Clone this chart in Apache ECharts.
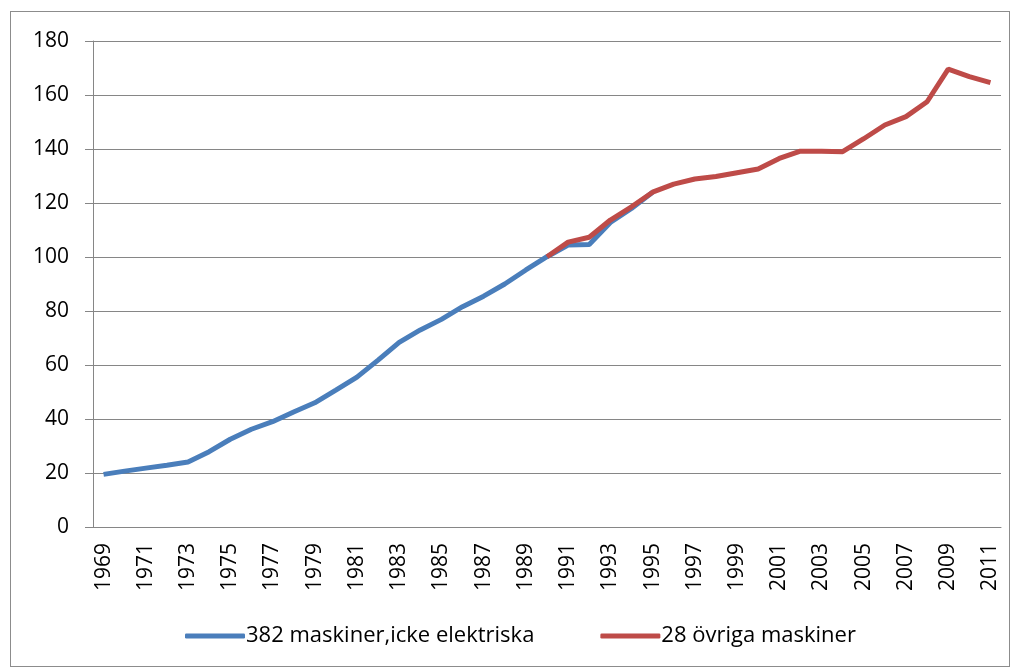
<!DOCTYPE html>
<html>
<head>
<meta charset="utf-8">
<script src="https://cdn.jsdelivr.net/npm/echarts@6/dist/echarts.min.js"></script>
<style>
    html, body { margin: 0; padding: 0; background: #fff; }
    #frame { position: absolute; left: 10px; top: 11px; width: 998px; height: 654px; border: 1px solid #8c8c8c; }
    #main { position: absolute; left: 0; top: 0; width: 1017px; height: 672px; }
</style>
</head>
<body>
<div id="frame"></div>
<div id="main"></div>
<script>
// years on the x axis
const years = [];
for (let y = 1969; y <= 2011; y++) years.push(String(y));

// 382 maskiner, icke elektriska (1969-1995)
const maskinerIckeEl = [
    19.5, 20.7, 21.8, 22.9, 24.1, 27.9, 32.5, 36.2, 39.0, 42.6,
    46.0, 50.7, 55.5, 61.8, 68.4, 73.0, 76.9, 81.6, 85.5, 90.0,
    95.2, 100.1, 104.4, 104.6, 112.8, 118.0, 124.0
];

// 28 övriga maskiner (1990-2011)
const ovrigaMaskiner = [
    100.1, 105.5, 107.3, 113.7, 118.6, 124.0, 127.0, 128.9, 129.8, 131.2,
    132.6, 136.5, 139.2, 139.2, 139.0, 143.8, 148.9, 152.0, 157.5, 169.6,
    166.8, 164.6
];

const yTicks = [0, 20, 40, 60, 80, 100, 120, 140, 160, 180];

function pad(arr, startYear) {
    const out = years.map(() => null);
    arr.forEach((v, i) => { out[Number(startYear) - 1969 + i] = v; });
    return out;
}

function displayChart() {
    var chartDom = document.getElementById('main');
    var myChart = echarts.init(chartDom);
    var fontFam = '"Open Sans", "Liberation Sans", sans-serif';
    var option = {
        animation: false,
        grid: { left: 93, right: 16, top: 41, bottom: 145, containLabel: false },
        legend: {
            bottom: 20,
            left: 180,
            itemWidth: 60,
            itemHeight: 5,
            itemGap: 66,
            icon: 'roundRect',
            textStyle: { fontFamily: fontFam, fontSize: 22, color: '#000', padding: [0, 0, 0, -4] },
            data: ['382 maskiner,icke elektriska', '28 övriga maskiner']
        },
        xAxis: {
            type: 'category',
            data: years,
            boundaryGap: true,
            axisLine: { lineStyle: { color: '#868686', width: 1 } },
            axisTick: { interval: 0, length: 8, lineStyle: { color: '#868686' } },
            axisLabel: {
                interval: 1,
                rotate: 90,
                margin: 16,
                fontFamily: fontFam,
                fontSize: 21,
                color: '#000'
            }
        },
        yAxis: {
            type: 'value',
            min: yTicks[0],
            max: yTicks[yTicks.length - 1],
            interval: 20,
            axisLine: { show: true, lineStyle: { color: '#868686', width: 1 } },
            axisTick: { show: true, length: 8, lineStyle: { color: '#868686' } },
            axisLabel: { margin: 24, fontFamily: fontFam, fontSize: 21, color: '#000' },
            splitLine: { lineStyle: { color: '#868686', width: 1 } }
        },
        series: [
            {
                name: '382 maskiner,icke elektriska',
                type: 'line',
                data: pad(maskinerIckeEl, '1969'),
                showSymbol: false,
                symbol: 'none',
                lineStyle: { color: '#4a7ebb', width: 5 },
                itemStyle: { color: '#4a7ebb' }
            },
            {
                name: '28 övriga maskiner',
                type: 'line',
                data: pad(ovrigaMaskiner, '1990'),
                showSymbol: false,
                symbol: 'none',
                lineStyle: { color: '#be4b48', width: 5 },
                itemStyle: { color: '#be4b48' }
            }
        ]
    };
    myChart.setOption(option);
}
displayChart();
</script>
</body>
</html>
